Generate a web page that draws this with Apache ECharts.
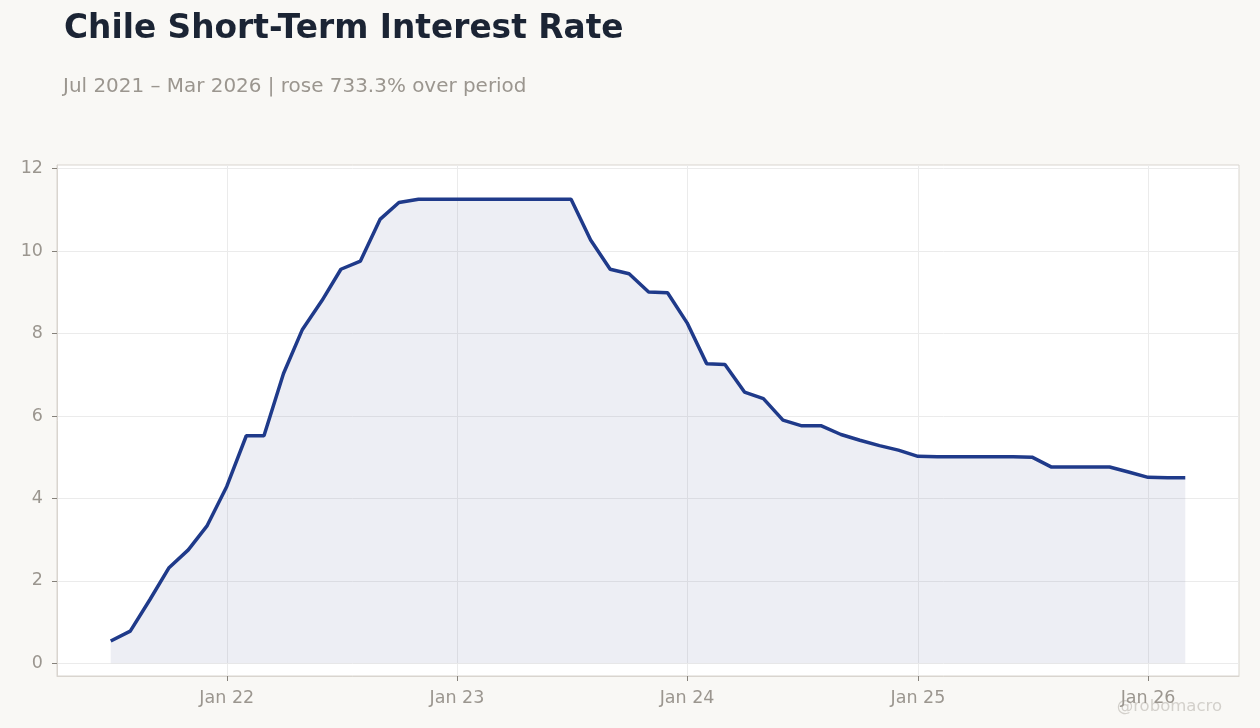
<!DOCTYPE html>
<html>
<head>
<meta charset="utf-8">
<title>Chile Short-Term Interest Rate</title>
<script src="https://cdn.jsdelivr.net/npm/echarts@6/dist/echarts.min.js"></script>
<style>
  html, body { margin: 0; padding: 0; background: #f9f8f5; }
  #chart { width: 1260px; height: 728px; }
</style>
</head>
<body>
<div id="chart"></div>
<script>
// monthly observations, Jul 2021 - Mar 2026
const months = [
  '2021-07', '2021-08', '2021-09', '2021-10', '2021-11', '2021-12',
  '2022-01', '2022-02', '2022-03', '2022-04', '2022-05', '2022-06',
  '2022-07', '2022-08', '2022-09', '2022-10', '2022-11', '2022-12',
  '2023-01', '2023-02', '2023-03', '2023-04', '2023-05', '2023-06',
  '2023-07', '2023-08', '2023-09', '2023-10', '2023-11', '2023-12',
  '2024-01', '2024-02', '2024-03', '2024-04', '2024-05', '2024-06',
  '2024-07', '2024-08', '2024-09', '2024-10', '2024-11', '2024-12',
  '2025-01', '2025-02', '2025-03', '2025-04', '2025-05', '2025-06',
  '2025-07', '2025-08', '2025-09', '2025-10', '2025-11', '2025-12',
  '2026-01', '2026-02', '2026-03'
];

// short-term rate, %
const rates = [
  0.54, 0.78, 1.54, 2.31, 2.75, 3.34,
  4.29, 5.52, 5.52, 7.03, 8.10, 8.80,
  9.56, 9.76, 10.77, 11.18, 11.26, 11.26,
  11.26, 11.26, 11.26, 11.26, 11.26, 11.26,
  11.26, 10.27, 9.56, 9.45, 9.01, 8.99,
  8.26, 7.27, 7.25, 6.58, 6.42, 5.90,
  5.76, 5.76, 5.55, 5.41, 5.28, 5.17,
  5.02, 5.01, 5.01, 5.01, 5.01, 5.01,
  5.00, 4.76, 4.76, 4.76, 4.76, 4.64,
  4.51, 4.50, 4.50
];

const yTicks = [0, 2, 4, 6, 8, 10, 12];
const xTickYears = [2022, 2023, 2024, 2025, 2026];

const toTime = (ym) => {
  const [y, m] = ym.split('-').map(Number);
  return Date.UTC(y, m - 1, 1);
};

const seriesData = months.map((m, i) => [toTime(m), rates[i]]);
const xTicks = xTickYears.map(y => Date.UTC(y, 0, 1));

// 5% padding either side of the date range
const tStart = toTime(months[0]);
const tEnd = toTime(months[months.length - 1]);
const pad = (tEnd - tStart) * 0.05;

const labelColor = '#9b968f';
const frameColor = '#d9d5cf';
const font = 'DejaVu Sans';

const chart = echarts.init(document.getElementById('chart'));

chart.setOption({
  backgroundColor: '#f9f8f5',
  animation: false,
  title: [
    {
      text: 'Chile Short-Term Interest Rate',
      left: 59,
      top: 8,
      textStyle: { fontFamily: font, fontSize: 32.8, fontWeight: 'bold', color: '#1b2434' }
    },
    {
      text: 'Jul 2021 – Mar 2026 | rose 733.3% over period',
      left: 58,
      top: 72,
      textStyle: { fontFamily: font, fontSize: 19.95, fontWeight: 'normal', color: labelColor }
    }
  ],
  graphic: [
    {
      type: 'text',
      right: 38,
      bottom: 13,
      style: { text: '@robomacro', fontFamily: font, fontSize: 16.5, fill: '#d3d0cb' }
    }
  ],
  grid: {
    left: 57,
    right: 21,
    top: 165,
    bottom: 52,
    show: true,
    backgroundColor: '#ffffff',
    borderColor: frameColor,
    borderWidth: 1
  },
  xAxis: {
    type: 'value',
    min: tStart - pad,
    max: tEnd + pad,
    axisLine: { show: true, onZero: false, lineStyle: { color: frameColor } },
    axisTick: {
      show: true,
      customValues: xTicks,
      length: 5,
      lineStyle: { color: '#85817a' }
    },
    axisLabel: {
      customValues: xTicks,
      color: labelColor,
      fontFamily: font,
      fontSize: 17.5,
      margin: 13,
      formatter: (v) => 'Jan ' + String(new Date(v).getUTCFullYear()).slice(2)
    },
    splitLine: { show: true, lineStyle: { color: '#ebebeb', width: 1 } }
  },
  yAxis: {
    type: 'value',
    min: -0.31,
    max: 12.09,
    axisLine: { show: true, onZero: false, lineStyle: { color: frameColor } },
    axisTick: {
      show: true,
      customValues: yTicks,
      length: 5,
      lineStyle: { color: '#85817a' }
    },
    axisLabel: {
      customValues: yTicks,
      color: labelColor,
      fontFamily: font,
      fontSize: 17.5,
      margin: 14
    },
    splitLine: { show: true, lineStyle: { color: '#ebebeb', width: 1 } }
  },
  series: [
    {
      type: 'line',
      data: seriesData,
      symbol: 'none',
      lineStyle: { color: '#1f3a8a', width: 3.5 },
      itemStyle: { color: '#1f3a8a' },
      // translucent so the grid shows through the fill
      areaStyle: { color: 'rgba(75, 85, 145, 0.1)', opacity: 1 }
    }
  ]
});
</script>
</body>
</html>
